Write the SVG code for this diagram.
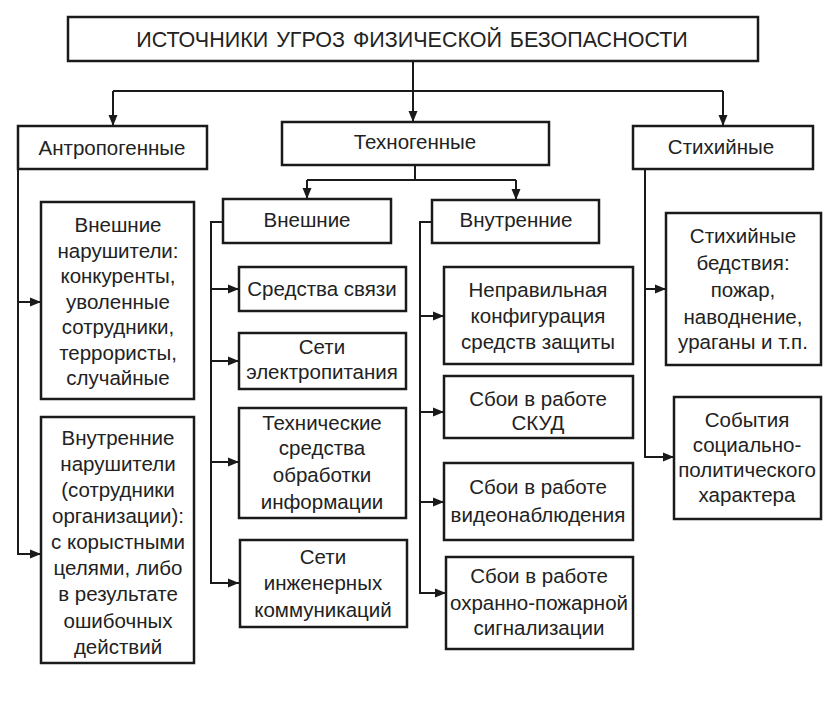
<svg xmlns="http://www.w3.org/2000/svg" width="836" height="706" viewBox="0 0 836 706">
<defs>
<marker id="ah" markerUnits="userSpaceOnUse" markerWidth="12" markerHeight="12" viewBox="0 0 12 12" refX="11" refY="6" orient="auto">
<path d="M0,1.5 L11,6 L0,10.5 Z" fill="#1a1a1a"/>
</marker>
<style>
rect{fill:#fff;stroke:#1a1a1a;stroke-width:2.5}
text{font-family:"Liberation Sans",Arial,sans-serif;font-size:20.5px;fill:#222;text-anchor:middle}
.t{font-size:21.5px}
#connectors path{fill:none;stroke:#1a1a1a;stroke-width:2}
.a{marker-end:url(#ah)}
</style>
</defs>
<rect x="0" y="0" width="836" height="706" style="fill:#fff;stroke:none"/>
<g id="connectors">
<path class="a" d="M413,61 V122"/>
<path d="M113,91 H723"/>
<path class="a" d="M113,91 V126"/>
<path class="a" d="M723,91 V126"/>
<path d="M415,165 V180 M307,180 H516"/>
<path class="a" d="M307,180 V199"/>
<path class="a" d="M516,180 V200"/>
<path class="a" d="M18,169 V554 H41"/>
<path class="a" d="M18,302 H41"/>
<path class="a" d="M223,222 H211 V583 H239"/>
<path class="a" d="M211,289 H239"/>
<path class="a" d="M211,361 H239"/>
<path class="a" d="M211,462 H239"/>
<path class="a" d="M432,222 H420 V593 H446"/>
<path class="a" d="M420,316 H444"/>
<path class="a" d="M420,412 H444"/>
<path class="a" d="M420,502 H444"/>
<path class="a" d="M645,169 V457 H674"/>
<path class="a" d="M645,289 H666"/>
</g>
<g id="root">
<rect x="68" y="17" width="690" height="44"/>
<text class="t" x="412" y="47" word-spacing="2">ИСТОЧНИКИ УГРОЗ ФИЗИЧЕСКОЙ БЕЗОПАСНОСТИ</text>
</g>
<g id="anthro">
<rect x="18" y="126" width="189" height="43"/>
<text x="112" y="155">Антропогенные</text>
</g>
<g id="techno">
<rect x="282" y="122" width="267" height="43"/>
<text x="415" y="149">Техногенные</text>
</g>
<g id="natural">
<rect x="633" y="126" width="180" height="43"/>
<text x="721" y="154">Стихийные</text>
</g>
<g id="tech-ext">
<rect x="223" y="199" width="168" height="44"/>
<text x="307" y="227">Внешние</text>
</g>
<g id="tech-int">
<rect x="432" y="200" width="167" height="43"/>
<text x="516" y="227">Внутренние</text>
</g>
<g id="ext-violators">
<rect x="41" y="202" width="153" height="197"/>
<text x="118" y="232">Внешние</text>
<text x="118" y="257.5">нарушители:</text>
<text x="118" y="283">конкуренты,</text>
<text x="118" y="308.5">уволенные</text>
<text x="118" y="334">сотрудники,</text>
<text x="118" y="359.5">террористы,</text>
<text x="118" y="385">случайные</text>
</g>
<g id="int-violators">
<rect x="41" y="417" width="153" height="246"/>
<text x="118" y="445">Внутренние</text>
<text x="118" y="471">нарушители</text>
<text x="118" y="497">(сотрудники</text>
<text x="118" y="523">организации):</text>
<text x="118" y="549">с корыстными</text>
<text x="118" y="575">целями, либо</text>
<text x="118" y="601">в результате</text>
<text x="118" y="628">ошибочных</text>
<text x="118" y="654">действий</text>
</g>
<g id="comm">
<rect x="239" y="267" width="167" height="44"/>
<text x="322" y="296">Средства связи</text>
</g>
<g id="power">
<rect x="239" y="333" width="167" height="56"/>
<text x="322" y="354">Сети</text>
<text x="322" y="379">электропитания</text>
</g>
<g id="it">
<rect x="239" y="408" width="167" height="110"/>
<text x="322" y="430">Технические</text>
<text x="322" y="455">средства</text>
<text x="322" y="482">обработки</text>
<text x="322" y="509">информации</text>
</g>
<g id="eng">
<rect x="240" y="540" width="167" height="87"/>
<text x="323" y="564">Сети</text>
<text x="323" y="590">инженерных</text>
<text x="323" y="617">коммуникаций</text>
</g>
<g id="config">
<rect x="444" y="267" width="189" height="97"/>
<text x="538" y="297">Неправильная</text>
<text x="538" y="323">конфигурация</text>
<text x="538" y="349">средств защиты</text>
</g>
<g id="skud">
<rect x="444" y="376" width="189" height="62"/>
<text x="538" y="406">Сбои в работе</text>
<text x="538" y="430">СКУД</text>
</g>
<g id="video">
<rect x="444" y="463" width="189" height="77"/>
<text x="538" y="494">Сбои в работе</text>
<text x="538" y="522">видеонаблюдения</text>
</g>
<g id="alarm">
<rect x="446" y="557" width="187" height="92"/>
<text x="539" y="583">Сбои в работе</text>
<text x="539" y="610">охранно-пожарной</text>
<text x="539" y="635">сигнализации</text>
</g>
<g id="disasters">
<rect x="666" y="213" width="155" height="152"/>
<text x="743" y="243">Стихийные</text>
<text x="743" y="270">бедствия:</text>
<text x="743" y="297">пожар,</text>
<text x="743" y="324">наводнение,</text>
<text x="743" y="349">ураганы и т.п.</text>
</g>
<g id="social">
<rect x="674" y="397" width="147" height="122"/>
<text x="747" y="427">События</text>
<text x="747" y="452">социально-</text>
<text x="747" y="477">политического</text>
<text x="747" y="502">характера</text>
</g>
</svg>
